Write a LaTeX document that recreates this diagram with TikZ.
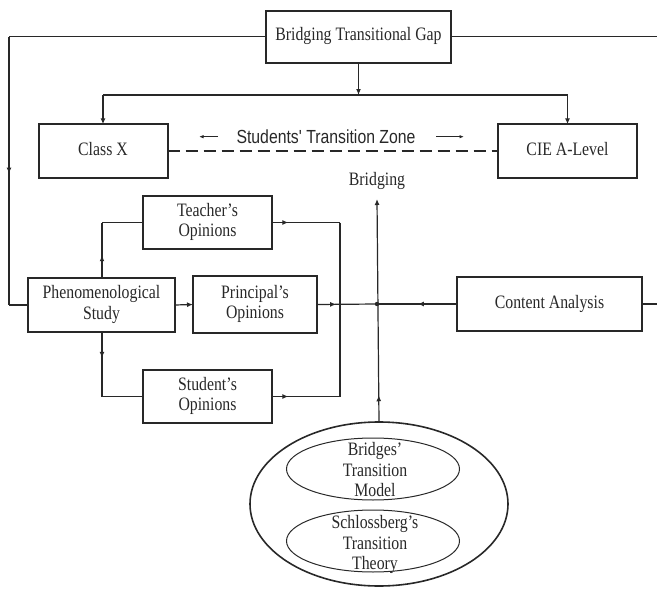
\documentclass[tikz,border=0pt]{standalone}
\usepackage{fontspec}
\setmainfont{Liberation Serif}
\newfontfamily\arialfont{Liberation Sans}
\usetikzlibrary{arrows.meta,decorations.markings,shapes.geometric}
\definecolor{ink}{RGB}{40,40,40}
\newcommand\vs[1]{\scalebox{1}[1.2]{\begin{tabular}{@{}c@{}}#1\end{tabular}}}
\tikzset{
  box/.style={draw=ink, line width=2pt, rectangle, inner sep=0pt, outer sep=0pt,
    font=\fontsize{15.8}{16.8}\selectfont, text=ink},
  conn/.style={draw=ink, line width=1.2pt},
  trunk/.style={draw=ink, line width=1.7pt},
  tip/.style={-{Latex[length=6pt,width=5pt]}},
  midarrow/.style={postaction={decorate},
    decoration={markings, mark=at position #1 with {\arrow{Latex[length=6pt,width=5pt]}}}},
  lbl/.style={inner sep=0pt, font=\fontsize{15.8}{16.8}\selectfont, text=ink},
  ell/.style={draw=ink, ellipse, inner sep=0pt, outer sep=0pt}
}
\begin{document}
\begin{tikzpicture}[x=1pt,y=-1pt]
\useasboundingbox (0,0) rectangle (657,589);

% boxes
\node[box, minimum width=185pt, minimum height=52pt] (gap) at (358.5,36.7) {\vs{Bridging Transitional Gap}};
\node[box, minimum width=129pt, minimum height=53.4pt] (classx) at (103,151) {\vs{Class X}};
\node[box, minimum width=139pt, minimum height=53.4pt] (cie) at (567.5,151) {\vs{CIE A-Level}};
\node[box, minimum width=129pt, minimum height=53pt] (teacher) at (207.5,222.5) {\vs{Teacher’s\\Opinions}};
\node[box, minimum width=147pt, minimum height=54pt] (phen) at (101.5,305) {\vs{Phenomenological\\Study}};
\node[box, minimum width=124pt, minimum height=57pt] (principal) at (255,304.5) {\vs{Principal’s\\Opinions}};
\node[box, minimum width=129pt, minimum height=53pt] (student) at (207.5,396.5) {\vs{Student’s\\Opinions}};
\node[box, minimum width=185pt, minimum height=54pt] (content) at (549.5,304) {\vs{Content Analysis}};

% ellipses
\node[ell, line width=1.6pt, minimum width=258pt, minimum height=164pt] (theory) at (379,504) {};
\node[ell, line width=1pt, minimum width=173pt, minimum height=62pt] (bridges) at (373,469) {};
\node[ell, line width=1pt, minimum width=173pt, minimum height=62pt] (schloss) at (373,541) {};
\node[lbl] (bridgestxt) at (375,472) {\vs{Bridges’\\Transition\\Model}};
\node[lbl] (schlosstxt) at (375,545) {\vs{Schlossberg’s\\Transition\\Theory}};

% texts
\node[inner sep=0pt, text=ink, font=\arialfont\fontsize{15.8}{17}\selectfont] (zone) at (326,136.7) {\scalebox{1}[1.2]{Students' Transition Zone}};
\node[lbl] (brtxt) at (377,181.7) {\vs{Bridging}};

% coordinates
\coordinate (lt) at (9,36.7);
\coordinate (lb) at (9,305);
\coordinate (rt) at (657,36.7);
\coordinate (rc) at (657,304);
\coordinate (j1) at (358.5,95);
\coordinate (jl) at (103,95);
\coordinate (jr) at (567.5,95);
\coordinate (zl1) at (218,136.7);
\coordinate (zl2) at (199,136.7);
\coordinate (zr1) at (436,136.7);
\coordinate (zr2) at (464,136.7);
\coordinate (tc) at (102,222.5);
\coordinate (sc) at (102,396.5);
\coordinate (rt1) at (340,222.5);
\coordinate (rb1) at (340,396.5);
\coordinate (hub) at (377,304);
\coordinate (vtop) at (377,199);
\coordinate (vbot) at (377,422);

% top structure
\draw[conn] (gap.west) -- (lt);
\draw[conn, midarrow=0.51] (lt) -- (lb);
\draw[conn] (lb) -- (phen.west);
\draw[conn] (gap.east) -- (rt);
\draw[trunk, tip] (gap.south) -- (j1);
\draw[trunk] (jl) -- (jr);
\draw[trunk, tip] (jl) -- (classx.north);
\draw[trunk, tip] (jr) -- (cie.north);
\draw[draw=ink, line width=2pt, dash pattern=on 12pt off 6pt] (classx.east) -- (cie.west);
\draw[draw=ink, line width=1pt, -{Latex[length=4.5pt,width=3.5pt]}] (zl1) -- (zl2);
\draw[draw=ink, line width=1pt, -{Latex[length=4.5pt,width=3.5pt]}] (zr1) -- (zr2);

% phenomenological branches
\draw[conn, midarrow=0.41] (phen.north -| tc) -- (tc);
\draw[conn] (tc) -- (teacher.west);
\draw[conn, midarrow=0.4] (phen.south -| sc) -- (sc);
\draw[conn] (sc) -- (student.west);
\draw[conn, tip] (phen.east) -- (principal.west);
\draw[conn, midarrow=0.24] (teacher.east) -- (rt1);
\draw[conn] (rt1) -- (rb1);
\draw[conn, midarrow=0.24] (student.east) -- (rb1);
\draw[conn, midarrow=0.32] (principal.east) -- (hub);

% central bridging
\draw[conn, midarrow=0.49] (content.west) -- (hub);
\draw[conn] (content.east) -- (rc);
\draw[conn, tip, midarrow=0.12] (theory.north) -- (vtop);
\fill[ink] (hub) circle (2.2pt);
\end{tikzpicture}
\end{document}
